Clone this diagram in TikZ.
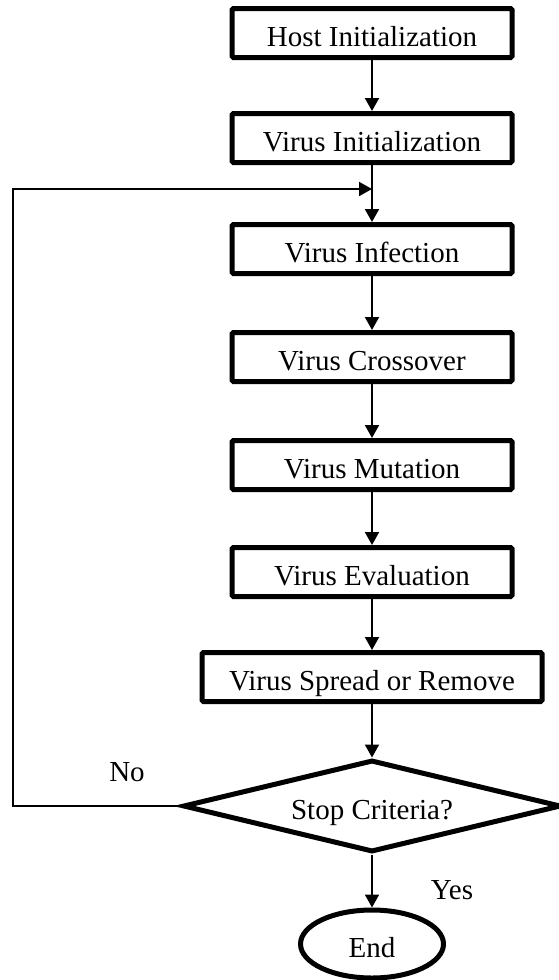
\documentclass[tikz,border=0pt]{standalone}
\usepackage{fontspec}
\setmainfont{Liberation Serif}
\usetikzlibrary{arrows.meta,shapes.geometric}

\begin{document}
\begin{tikzpicture}[x=1pt,y=-1pt,
  every node/.style={font=\fontsize{29}{34}\selectfont},
  lowtext/.style={text height=27pt, text depth=0pt},
  stepbox/.style={draw, line width=5pt, rectangle, rounded corners=1.5pt,
                  minimum width=280pt, minimum height=49pt, inner sep=0pt, lowtext},
  widebox/.style={stepbox, minimum width=340pt},
  decision/.style={draw, line width=5pt, diamond, aspect=4.1,
                   minimum width=378pt, minimum height=92pt, inner sep=0pt, lowtext},
  terminal/.style={draw, line width=5pt, ellipse, minimum width=143pt,
                   minimum height=68pt, inner sep=0pt, lowtext},
  flow/.style={line width=2pt, -{Triangle[length=13pt,width=14pt]}}]

\useasboundingbox (0,0) rectangle (558,980);

% process steps
\node[stepbox]  (host)  at (372,33)  {Host Initialization};
\node[stepbox]  (init)  at (372,138) {Virus Initialization};
\node[stepbox]  (infec) at (372,249) {Virus Infection};
\node[stepbox]  (cross) at (372,357) {Virus Crossover};
\node[stepbox]  (mutat) at (372,465) {Virus Mutation};
\node[stepbox]  (evalu) at (372,572) {Virus Evaluation};
\node[widebox]  (sprea) at (372,677) {Virus Spread or Remove};
\node[decision] (stop)  at (372,806) {Stop Criteria?};
\node[terminal] (fin)   at (372,944) {End};

% branch labels
\node (nolab)  at (127,772) {No};
\node (yeslab) at (452,890) {Yes};

% main flow
\draw[flow] (host) -- (init);
\draw[flow] (init) -- (infec);
\draw[flow] (infec) -- (cross);
\draw[flow] (cross) -- (mutat);
\draw[flow] (mutat) -- (evalu);
\draw[flow] (evalu) -- (sprea);
\draw[flow] (sprea) -- (stop);
\draw[flow] (stop) -- (fin);

% loop back when the stop criteria are not met
\coordinate (loopcorner) at (13,806);
\coordinate (merge) at (372,189);
\draw[flow] (stop.west) -- (loopcorner) |- (merge);

\end{tikzpicture}
\end{document}
